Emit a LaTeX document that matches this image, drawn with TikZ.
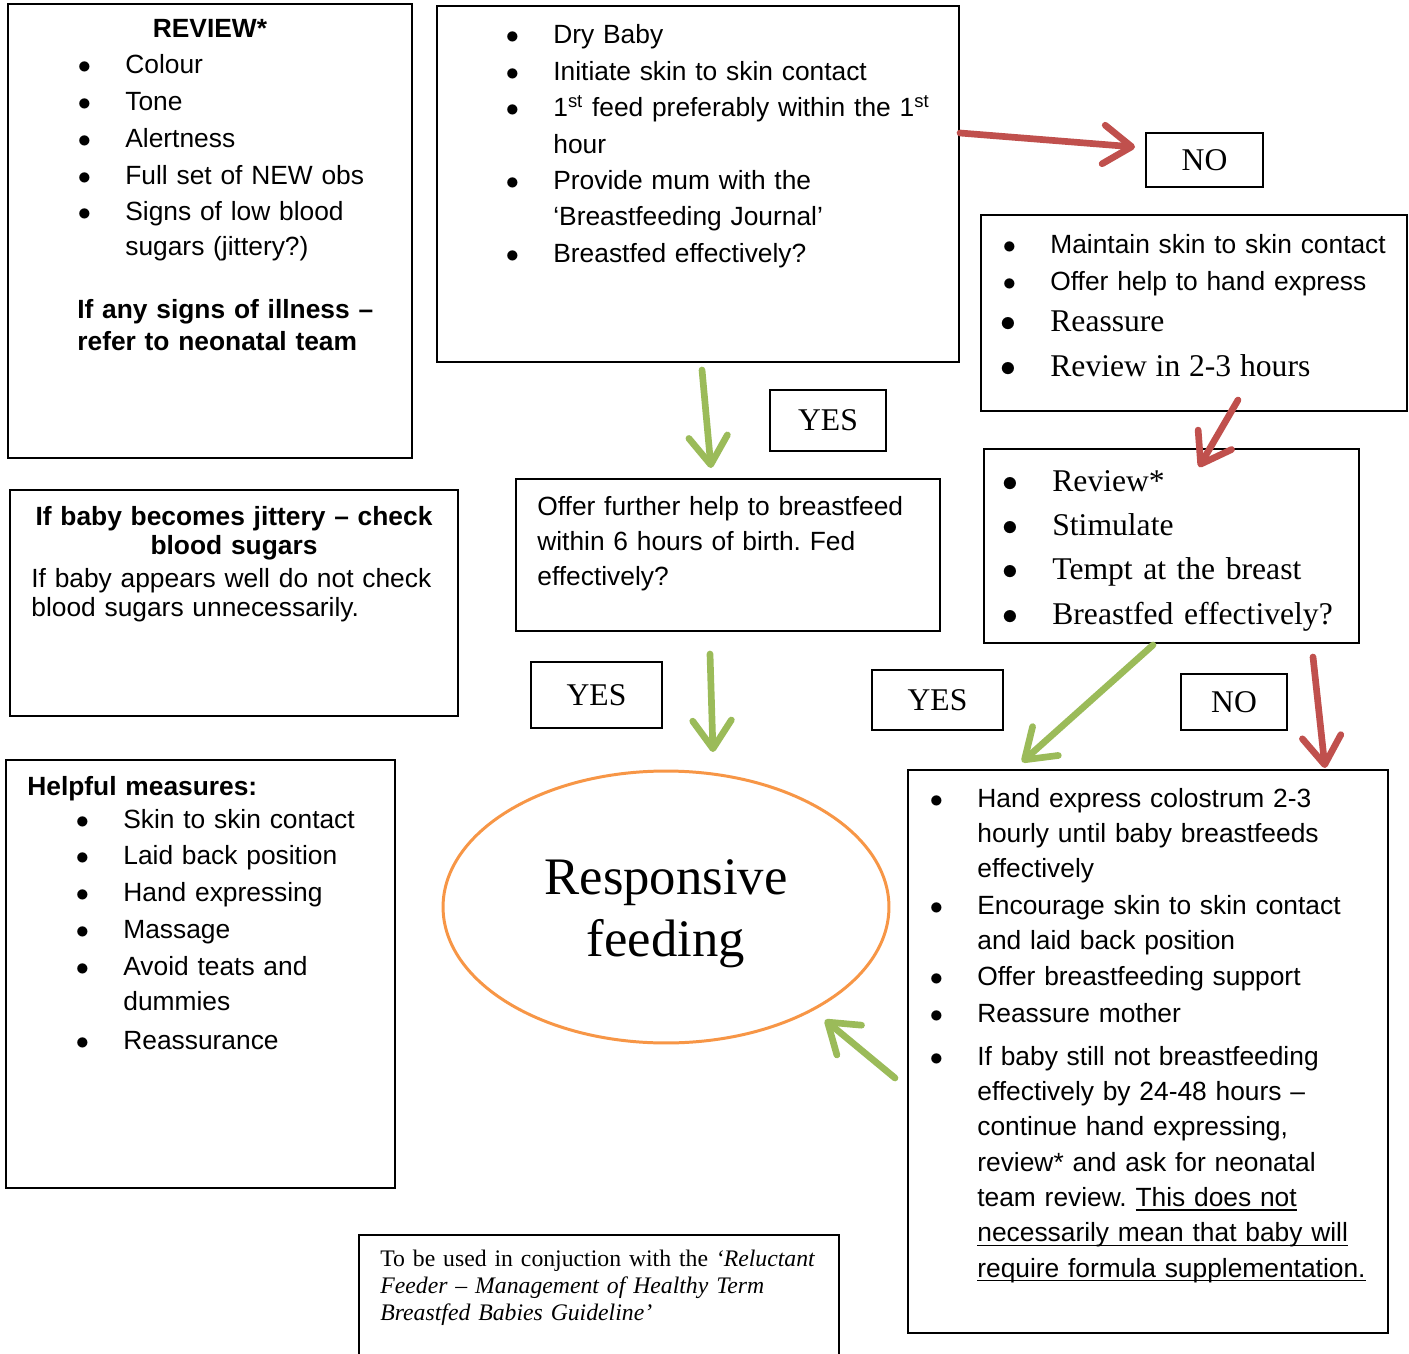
\RequirePackage{fix-cm}
\documentclass[tikz,border=0pt]{standalone}
\usepackage{fontspec}
\setmainfont{Liberation Sans}
\newfontfamily\tnr{Liberation Serif}
\usetikzlibrary{arrows.meta,fit,shapes.geometric}
\definecolor{arrowred}{HTML}{C0504D}
\definecolor{arrowgreen}{HTML}{9BBB59}
\definecolor{ringorange}{HTML}{F79646}
\frenchspacing
\newcommand\arialf{\fontsize{15pt}{20.98pt}\selectfont}
\newcommand\bl{\leavevmode\llap{$\bullet$\hspace{19.5pt}}}
\newlength\ulw
\newcommand\ul[1]{\leavevmode\settowidth\ulw{#1}\rlap{\rule[-2.4pt]{\ulw}{0.9pt}}#1}
\tikzset{
  box/.style={draw, line width=1.1pt, inner sep=0pt},
  answer/.style={draw, line width=1.1pt, inner sep=0pt, font=\tnr\fontsize{18pt}{21pt}\selectfont},
  txt/.style={anchor=base west, inner sep=0pt, text width=11cm, align=left},
  arr/.style={line width=3.8pt, line cap=round, -{Straight Barb[length=16pt,width=22pt,line cap=round,line join=round]}},
  redarrow/.style={arr, draw=arrowred},
  greenarrow/.style={arr, draw=arrowgreen}
}
\begin{document}
\begin{tikzpicture}[x=0.02cm,y=-0.02cm]
        \fill[white] (0,0) rectangle (1409,1354);
        \useasboundingbox (0,0) rectangle (1409,1354);

        \node[box, fit={(8,4) (412,458)}] (review) {};
        \node[anchor=base, inner sep=0pt, font=\bfseries\arialf] (reviewtitle) at (210,38) {REVIEW*};
        \node[txt, font=\arialf] (reviewlist) at (125,73.5) {\bl Colour\\ \bl Tone\\ \bl Alertness\\ \bl Full set of NEW obs\\ \bl Signs of low blood\\[-1.13pt] sugars (jittery?)};
        \node[txt, font=\bfseries\fontsize{15pt}{18.14pt}\selectfont] (illness) at (77,318.5) {If any signs of illness –\\ refer to neonatal team};

        \node[box, fit={(437,6) (959,362)}] (birth) {};
        \node[txt, font=\fontsize{15pt}{20.7pt}\selectfont] (birthlist) at (553,44) {\bl Dry Baby\\ \bl Initiate skin to skin contact\\ \bl 1\textsuperscript{st} feed preferably within the 1\textsuperscript{st}\\ hour\\ \bl Provide mum with the\\ ‘Breastfeeding Journal’\\ \bl Breastfed effectively?};

        \node[answer, minimum width=2.34cm, minimum height=1.08cm] (no1) at (1204.5,160) {NO};

        \node[box, fit={(981,215) (1407,411)}] (maintain) {};
        \node[txt, font=\arialf] (maintainlist) at (1050,253.5) {\bl Maintain skin to skin contact\\ \bl Offer help to hand express\\[2.27pt] {\tnr\fontsize{18pt}{21pt}\selectfont\bl Reassure}\\[4.54pt] {\tnr\fontsize{18pt}{21pt}\selectfont\bl Review in 2-3 hours}};

        \node[box, fit={(984,449) (1359,643)}] (stimulate) {};
        \node[txt, font=\tnr\fontsize{18pt}{25.3pt}\selectfont] (stimulatelist) at (1052,491) {\bl Review*\\ \bl Stimulate\\ \bl Tempt at the breast\\ \bl Breastfed effectively?};

        \node[answer, minimum width=2.32cm, minimum height=1.22cm] (yes1) at (828,420.5) {YES};

        \node[box, fit={(516,479) (940,631)}] (further) {};
        \node[txt, font=\fontsize{15pt}{20.1pt}\selectfont] (furthertext) at (537,515) {Offer further help to breastfeed\\ within 6 hours of birth. Fed\\ effectively?};

        \node[box, fit={(10,490) (458,716)}] (jittery) {};
        \node[anchor=base, inner sep=0pt, text width=8.8cm, align=center, font=\bfseries\fontsize{15pt}{17pt}\selectfont] (jitterytitle) at (234,525) {If baby becomes jittery – check\\ blood sugars};
        \node[txt, font=\fontsize{15pt}{17pt}\selectfont] (jitterytext) at (31,587) {If baby appears well do not check\\ blood sugars unnecessarily.};

        \node[answer, minimum width=2.62cm, minimum height=1.32cm] (yes2) at (596.5,695) {YES};
        \node[answer, minimum width=2.62cm, minimum height=1.2cm] (yes3) at (937.5,700) {YES};
        \node[answer, minimum width=2.12cm, minimum height=1.12cm] (no2) at (1234,702) {NO};

        \node[box, fit={(6,760) (395,1188)}] (helpful) {};
        \node[txt, font=\bfseries\arialf] (helpfultitle) at (27,795) {Helpful measures:};
        \node[txt, font=\arialf] (helpfullist) at (123,828) {\bl Skin to skin contact\\ \bl Laid back position\\ \bl Hand expressing\\ \bl Massage\\ \bl Avoid teats and\\[-1.13pt] dummies\\[1.13pt] \bl Reassurance};

        \node[ellipse, draw=ringorange, line width=1.7pt, inner sep=0pt, minimum width=8.92cm, minimum height=5.44cm] (resp) at (666,907) {};
        \node[anchor=base, inner sep=0pt, text width=8cm, align=center, font=\tnr\fontsize{30pt}{35.7pt}\selectfont] (resptext) at (666,894) {Responsive\\ feeding};

        \node[box, fit={(908,770) (1388,1333)}] (express) {};
        \node[txt, font=\fontsize{15pt}{20.1pt}\selectfont] (expresslist) at (977,807) {\bl Hand express colostrum 2-3\\ hourly until baby breastfeeds\\ effectively\\[0.85pt] \bl Encourage skin to skin contact\\ and laid back position\\[0.4pt] \bl Offer breastfeeding support\\[0.85pt] \bl Reassure mother\\[4.25pt] \bl If baby still not breastfeeding\\ effectively by 24-48 hours –\\ continue hand expressing,\\ review* and ask for neonatal\\ team review. \ul{This does not}\\ \ul{necessarily mean that baby will}\\ \ul{require formula supplementation.}};

        \node[box, fit={(359,1235) (839,1390)}] (guideline) {};
        \node[txt, font=\tnr\fontsize{13.5pt}{15.6pt}\selectfont] (guidelinetext) at (380,1266) {To be used in conjuction with the \textit{‘Reluctant}\\ \textit{Feeder – Management of Healthy Term}\\ \textit{Breastfed Babies Guideline’}};

        \coordinate (ra1) at (960,133);
        \coordinate (ra2) at (1135,147);
        \coordinate (ga1) at (702,370);
        \coordinate (ga2) at (711,468);
        \coordinate (ga3) at (710,654);
        \coordinate (ga4) at (713,752);
        \coordinate (rb1) at (1238,400);
        \coordinate (rb2) at (1199,467);
        \coordinate (gb1) at (1153,645);
        \coordinate (gb2) at (1022,762);
        \coordinate (rc1) at (1313,657);
        \coordinate (rc2) at (1325,768);
        \coordinate (gc1) at (895,1078);
        \coordinate (gc2) at (825,1020);

        \draw[redarrow] (ra1) -- (ra2);
        \draw[greenarrow] (ga1) -- (ga2);
        \draw[greenarrow] (ga3) -- (ga4);
        \draw[redarrow] (rb1) -- (rb2);
        \draw[greenarrow] (gb1) -- (gb2);
        \draw[redarrow] (rc1) -- (rc2);
        \draw[greenarrow] (gc1) -- (gc2);
    \end{tikzpicture}
\end{document}
